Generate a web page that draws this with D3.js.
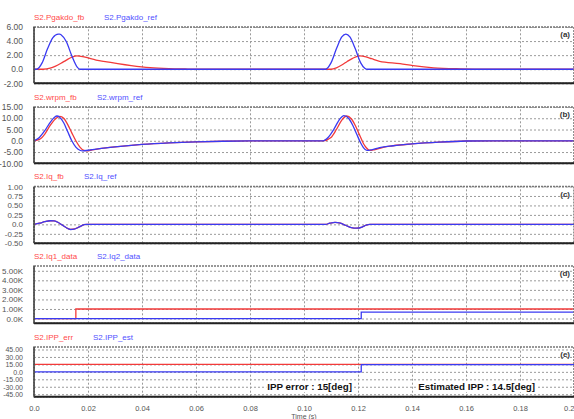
<!DOCTYPE html>
<html>
<head>
<meta charset="utf-8">
<script src="https://cdn.jsdelivr.net/npm/d3@7"></script>
<style>
  body { margin: 0; background: #fff; }
  text { font-family: "Liberation Sans", Arial, sans-serif; }
</style>
</head>
<body>
<svg id="chart" width="574" height="419"></svg>
<script>
// time axis
const timeTicks = [0, 0.02, 0.04, 0.06, 0.08, 0.10, 0.12, 0.14, 0.16, 0.18, 0.20];
const timeLabels = ['0.0', '0.02', '0.04', '0.06', '0.08', '0.10', '0.12', '0.14', '0.16', '0.18', '0.2'];

// (a) Pgakdo
const pgFbT = [0, 0.0034, 0.006, 0.008, 0.010, 0.012, 0.014, 0.0159, 0.018, 0.020, 0.023, 0.027, 0.031, 0.036, 0.043, 0.050, 0.056, 0.062,
  0.110, 0.112, 0.114, 0.116, 0.118, 0.1207, 0.123, 0.125, 0.128, 0.1356, 0.1404, 0.148, 0.158, 0.168, 0.2];
const pgFbV = [0, 0, 0.15, 0.45, 0.85, 1.3, 1.7, 1.9, 1.8, 1.6, 1.3, 1.05, 0.8, 0.52, 0.22, 0.08, 0.03, 0,
  0, 0.2, 0.6, 1.1, 1.55, 1.9, 1.75, 1.5, 1.13, 0.8, 0.52, 0.2, 0.05, 0, 0];
const pgRefT = [0, 0.001, 0.003, 0.005, 0.007, 0.009, 0.0095, 0.010, 0.012, 0.014, 0.016, 0.017,
  0.108, 0.110, 0.112, 0.114, 0.1155, 0.117, 0.119, 0.121, 0.1225, 0.1235, 0.2];
const pgRefV = [0, 0, 0.9, 2.9, 4.5, 5.0, 5.0, 4.9, 3.9, 1.9, 0.3, 0,
  0, 0.9, 2.9, 4.6, 5.0, 4.6, 2.9, 0.9, 0.15, 0, 0];

// (b) wrpm
const wrFbT = [0, 0.002, 0.004, 0.006, 0.008, 0.0096, 0.011, 0.0125, 0.014, 0.0155, 0.017, 0.0185, 0.0195, 0.021, 0.025, 0.030, 0.040, 0.050, 0.060, 0.070, 0.080, 0.090,
  0.107, 0.110, 0.112, 0.114, 0.1158, 0.1175, 0.119, 0.1205, 0.122, 0.123, 0.1243, 0.126, 0.129, 0.133, 0.140, 0.150, 0.160, 0.170, 0.2];
const wrFbV = [0, 0.6, 3.0, 6.8, 9.8, 10.8, 10.0, 7.2, 3.5, 0, -2.8, -4.3, -4.5, -4.2, -3.4, -2.7, -1.6, -0.9, -0.45, -0.2, -0.05, 0,
  0, 1.5, 5.0, 9.2, 11.0, 9.8, 6.8, 2.8, -1.2, -3.0, -4.3, -4.0, -3.0, -2.2, -1.4, -0.6, -0.1, 0, 0];
const wrRefT = [0, 0.002, 0.004, 0.006, 0.0075, 0.0085, 0.0095, 0.011, 0.0125, 0.014, 0.0155, 0.017, 0.018, 0.020, 0.025, 0.030, 0.040, 0.050, 0.060, 0.070, 0.080, 0.090,
  0.107, 0.109, 0.111, 0.113, 0.1148, 0.1165, 0.118, 0.1195, 0.121, 0.122, 0.1233, 0.125, 0.128, 0.133, 0.140, 0.150, 0.160, 0.170, 0.2];
const wrRefV = [0, 1.5, 4.5, 8.2, 10.3, 11.0, 10.5, 8.0, 4.0, 0, -2.8, -4.2, -4.5, -4.2, -3.4, -2.7, -1.6, -0.9, -0.45, -0.2, -0.05, 0,
  0, 1.6, 5.0, 9.2, 11.2, 10.0, 7.0, 3.0, -1.0, -3.0, -4.3, -4.0, -3.0, -2.2, -1.4, -0.6, -0.1, 0, 0];

// (c) Iq
const iqFbT = [0, 0.002, 0.004, 0.006, 0.0075, 0.009, 0.0105, 0.012, 0.0135, 0.015, 0.017, 0.0185, 0.0195,
  0.108, 0.1095, 0.1115, 0.1135, 0.1155, 0.1175, 0.1195, 0.1215, 0.123, 0.1244, 0.2];
const iqFbV = [0, 0.03, 0.07, 0.095, 0.09, 0.05, -0.02, -0.09, -0.13, -0.12, -0.06, -0.01, 0,
  0, 0.03, 0.055, 0.03, -0.03, -0.085, -0.1, -0.07, -0.02, 0, 0];
const iqRefT = iqFbT;
const iqRefV = [0, 0.03, 0.07, 0.095, 0.09, 0.05, -0.02, -0.09, -0.135, -0.125, -0.06, -0.01, 0,
  0, 0.03, 0.055, 0.03, -0.03, -0.085, -0.1, -0.07, -0.02, 0, 0];

// (d) Iq data (steps)
const iq1T = [0, 0.0155, 0.2];
const iq1V = [0, 1000, 1000];
const iq2T = [0, 0.1212, 0.2];
const iq2V = [0, 680, 680];

// (e) IPP (steps)
const ippErrT = [0, 0.2];
const ippErrV = [15, 15];
const ippEstT = [0, 0.1212, 0.2];
const ippEstV = [0, 14.5, 14.5];

// y ticks per panel
const aTicks = [6, 4, 2, 0, -2];
const aLabels = ['6.00', '4.00', '2.00', '0.0', '-2.00'];
const bTicks = [15, 10, 5, 0, -5, -10];
const bLabels = ['15.00', '10.00', '5.00', '0.0', '-5.00', '-10.00'];
const cTicks = [1, 0.75, 0.5, 0.25, 0, -0.25, -0.5];
const cLabels = ['1.00', '0.75', '0.50', '0.25', '0.0', '-0.25', '-0.50'];
const dTicks = [5000, 4000, 3000, 2000, 1000, 0];
const dLabels = ['5.00K', '4.00K', '3.00K', '2.00K', '1.00K', '0.0K'];
const eTicks = [45, 30, 15, 0, -15, -30, -45];
const eLabels = ['45.00', '30.00', '15.00', '0.0', '-15.00', '-30.00', '-45.00'];

const red = '#f23a3a';
const blue = '#3a3af2';

const svg = d3.select('#chart');
const left = 34, right = 574;

const x = d3.scaleLinear().domain([0, 0.2]).range([left, right]);

const panels = [
  { tag: '(a)', top: 27, bottom: 83.3, domain: [-2, 6], ticks: aTicks, labels: aLabels, fs: 8.5,
    names: ['S2.Pgakdo_fb', 'S2.Pgakdo_ref'], nameX: [34, 104], step: false,
    series: [[pgFbT, pgFbV, red], [pgRefT, pgRefV, blue]] },
  { tag: '(b)', top: 107, bottom: 163.3, domain: [-10, 15], ticks: bTicks, labels: bLabels, fs: 8.5,
    names: ['S2.wrpm_fb', 'S2.wrpm_ref'], nameX: [34, 97], step: false,
    series: [[wrFbT, wrFbV, red], [wrRefT, wrRefV, blue]] },
  { tag: '(c)', top: 186.5, bottom: 243.3, domain: [-0.5, 1], ticks: cTicks, labels: cLabels, fs: 8,
    names: ['S2.Iq_fb', 'S2.Iq_ref'], nameX: [34, 84], step: false,
    series: [[iqFbT, iqFbV, red], [iqRefT, iqRefV, blue]] },
  { tag: '(d)', top: 266, bottom: 323.3, domain: [-500, 5500], ticks: dTicks, labels: dLabels, fs: 8,
    names: ['S2.Iq1_data', 'S2.Iq2_data'], nameX: [34, 97], step: true,
    series: [[iq1T, iq1V, red], [iq2T, iq2V, blue]] },
  { tag: '(e)', top: 347, bottom: 396.7, domain: [-50, 50], ticks: eTicks, labels: eLabels, fs: 7,
    names: ['S2.IPP_err', 'S2.IPP_est'], nameX: [34, 93], step: true,
    series: [[ippErrT, ippErrV, red], [ippEstT, ippEstV, blue]] }
];

panels.forEach((p, k) => {
  const y = d3.scaleLinear().domain(p.domain).range([p.bottom, p.top]);
  const g = svg.append('g');

  // dashed grid, horizontal then vertical
  g.append('g')
    .attr('transform', `translate(${left},0)`)
    .call(d3.axisLeft(y).tickValues(p.ticks).tickSize(-(right - left)).tickFormat(''))
    .call(s => s.select('.domain').remove())
    .selectAll('line').attr('stroke', '#9a9a9a').attr('stroke-dasharray', '2,2');
  g.append('g')
    .attr('transform', `translate(0,${p.bottom})`)
    .call(d3.axisBottom(x).tickValues(timeTicks).tickSize(-(p.bottom - p.top)).tickFormat(''))
    .call(s => s.select('.domain').remove())
    .selectAll('line').attr('stroke', '#9a9a9a').attr('stroke-dasharray', '2,2');

  // y tick labels
  g.append('g')
    .attr('transform', `translate(${left - 8},0)`)
    .call(d3.axisLeft(y).tickValues(p.ticks).tickSize(0).tickFormat((d, i) => p.labels[i]))
    .call(s => s.select('.domain').remove())
    .selectAll('text').attr('fill', '#555').style('font-size', p.fs + 'px')
    .style('font-family', '"Liberation Sans", Arial, sans-serif');

  // series
  const clipId = 'clip' + k;
  svg.append('clipPath').attr('id', clipId)
    .append('rect').attr('x', left).attr('y', p.top).attr('width', right - left).attr('height', p.bottom - p.top);
  const line = d3.line()
    .x(d => x(d[0]))
    .y(d => y(d[1]))
    .curve(p.step ? d3.curveStepAfter : d3.curveMonotoneX);
  p.series.forEach(([ts, vs, col]) => {
    g.append('path')
      .attr('clip-path', `url(#${clipId})`)
      .attr('d', line(ts.map((t, i) => [t, vs[i]])))
      .attr('fill', 'none')
      .attr('stroke', col)
      .attr('stroke-width', 1.3);
  });

  // frame
  g.append('rect')
    .attr('x', left).attr('y', p.top)
    .attr('width', right - left).attr('height', p.bottom - p.top)
    .attr('fill', 'none').attr('stroke', '#777').attr('stroke-width', 1.6)
    .attr('stroke-dasharray', '2,1');
  g.append('line')
    .attr('x1', left).attr('x2', right).attr('y1', p.bottom).attr('y2', p.bottom)
    .attr('stroke', '#222').attr('stroke-width', 2);
  g.append('line')
    .attr('x1', left).attr('x2', left).attr('y1', p.top).attr('y2', p.bottom)
    .attr('stroke', '#444').attr('stroke-width', 1.5);

  // legend names
  p.names.forEach((n, i) => {
    g.append('text')
      .attr('x', p.nameX[i]).attr('y', p.top - 7.5)
      .attr('fill', i === 0 ? '#ff4a4a' : '#5050ff')
      .style('font-size', '8px')
      .text(n);
  });

  // panel tag
  g.append('text')
    .attr('x', right - 4).attr('y', p.top + 10)
    .attr('text-anchor', 'end')
    .attr('fill', '#333')
    .style('font-size', '8px').style('font-weight', 'bold')
    .text(p.tag);
});

// x tick labels
svg.append('g')
  .attr('transform', `translate(0,${panels[4].bottom + 6})`)
  .call(d3.axisBottom(x).tickValues(timeTicks).tickSize(0).tickFormat((d, i) => timeLabels[i]))
  .call(s => s.select('.domain').remove())
  .selectAll('text').attr('fill', '#555').style('font-size', '7.5px')
  .style('font-family', '"Liberation Sans", Arial, sans-serif')
  .filter((d, i) => i === timeTicks.length - 1).attr('text-anchor', 'end');

svg.append('text')
  .attr('x', x(0.1)).attr('y', 419)
  .attr('text-anchor', 'middle')
  .attr('fill', '#555')
  .style('font-size', '7px')
  .text('Time (s)');

// annotations in panel (e)
const notes = [
  { t: 0.1178, text: 'IPP error : 15[deg]' },
  { t: 0.1856, text: 'Estimated IPP : 14.5[deg]' }
];
notes.forEach(n => {
  const g = svg.append('g');
  const txt = g.append('text')
    .attr('x', x(n.t)).attr('y', 390)
    .attr('text-anchor', 'end')
    .attr('fill', '#111')
    .style('font-size', '9.8px').style('font-weight', 'bold')
    .text(n.text);
  const bb = txt.node().getBBox();
  g.insert('rect', 'text')
    .attr('x', bb.x - 1).attr('y', bb.y)
    .attr('width', bb.width + 2).attr('height', bb.height)
    .attr('fill', '#fff');
});
</script>
</body>
</html>
